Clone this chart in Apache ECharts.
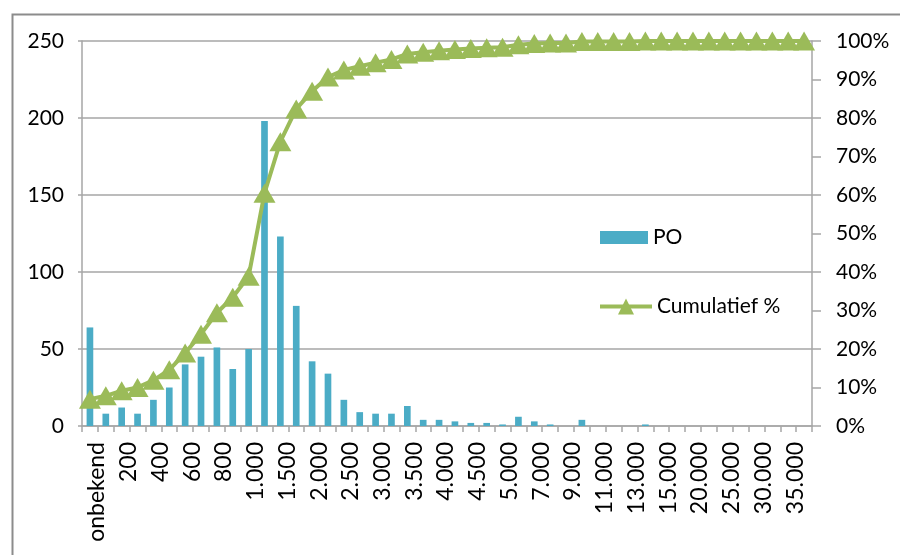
<!DOCTYPE html>
<html>
<head>
<meta charset="utf-8">
<script src="https://cdn.jsdelivr.net/npm/echarts@6/dist/echarts.min.js"></script>
<style>html,body{margin:0;padding:0;background:#fff;}#c{width:900px;height:555px;}</style>
</head>
<body>
<div id="c"></div>
<script>
const categories = ['onbekend','100','200','300','400','500','600','700','800','900',
  '1.000','1.250','1.500','1.750','2.000','2.250','2.500','2.750','3.000','3.250',
  '3.500','3.750','4.000','4.250','4.500','4.750','5.000','6.000','7.000','8.000',
  '9.000','10.000','11.000','12.000','13.000','14.000','15.000','17.500','20.000','22.500',
  '25.000','27.500','30.000','32.500','35.000','meer'];
const poValues = [64,8,12,8,17,25,40,45,51,37,
  50,198,123,78,42,34,17,9,8,8,
  13,4,4,3,2,2,1,6,3,1,
  0,4,0,0,0,1,0,0,0,0,
  0,0,0,0,0,0];
const cumulativePct = [6.97,7.84,9.15,10.02,11.87,14.60,18.95,23.86,29.41,33.44,
  38.89,60.46,73.86,82.35,86.93,90.63,92.48,93.46,94.34,95.21,
  96.62,97.06,97.49,97.82,98.04,98.26,98.37,99.02,99.35,99.46,
  99.46,99.89,99.89,99.89,99.89,100,100,100,100,100,
  100,100,100,100,100,100];
const leftTicks = {min:0, max:250, interval:50};
const rightTicks = {min:0, max:100, interval:10};

const FONT = 'Lato';
const GRAY = '#A6A6A6';
const GREEN = '#9BBB59';
const chart = echarts.init(document.getElementById('c'));
chart.setOption({
  animation: false,
  backgroundColor: '#fff',
  textStyle: {fontFamily: FONT},
  graphic: [{
    type: 'rect', left: 10, top: 12,
    shape: {width: 1000, height: 700},
    style: {fill: 'none', stroke: '#8C8C8C', lineWidth: 2}, silent: true, z: -1
  }],
  grid: {left: 82, right: 88, top: 41, bottom: 129},
  legend: [{
    data: [{name: 'PO', icon: 'rect'}], left: 600, top: 227, padding: 0,
    itemWidth: 48, itemHeight: 13,
    textStyle: {fontFamily: FONT, fontSize: 21, color: '#000'}
  },{
    data: ['Cumulatief %'], left: 598, top: 296, padding: 0,
    itemWidth: 52, itemHeight: 20,
    lineStyle: {width: 4, color: GREEN},
    textStyle: {fontFamily: FONT, fontSize: 21, color: '#000'}
  }],
  xAxis: {
    type: 'category', data: categories,
    axisLine: {show: true, lineStyle: {color: GRAY, width: 1.5}},
    axisTick: {show: true, alignWithLabel: false, interval: 0, length: 6, lineStyle: {color: GRAY, width: 1.5}},
    axisLabel: {interval: 1, rotate: 90, fontFamily: FONT, fontSize: 23, color: '#000', margin: 16,
      verticalAlign: 'top', lineHeight: 14}
  },
  yAxis: [{
    type: 'value', min: leftTicks.min, max: leftTicks.max, interval: leftTicks.interval,
    axisLine: {show: true, lineStyle: {color: GRAY, width: 1.5}},
    axisTick: {show: true, length: 4, lineStyle: {color: GRAY, width: 1.5}},
    splitLine: {show: true, lineStyle: {color: GRAY, width: 1.5}},
    axisLabel: {fontFamily: FONT, fontSize: 21, color: '#000', margin: 18}
  },{
    type: 'value', min: rightTicks.min, max: rightTicks.max, interval: rightTicks.interval,
    position: 'right',
    axisLine: {show: true, lineStyle: {color: GRAY, width: 1.5}},
    axisTick: {show: true, length: 9, lineStyle: {color: GRAY, width: 1.5}},
    splitLine: {show: false},
    axisLabel: {formatter: '{value}%', fontFamily: FONT, fontSize: 21, color: '#000', margin: 24}
  }],
  series: [{
    name: 'PO', type: 'bar', data: poValues, yAxisIndex: 0,
    barWidth: '42%',
    itemStyle: {color: '#4BACC6'}
  },{
    name: 'Cumulatief %', type: 'line', data: cumulativePct, yAxisIndex: 1,
    symbol: 'triangle', symbolSize: [22, 19], showAllSymbol: true,
    lineStyle: {color: GREEN, width: 4},
    itemStyle: {color: GREEN},
    z: 5
  }]
});
</script>
</body>
</html>
